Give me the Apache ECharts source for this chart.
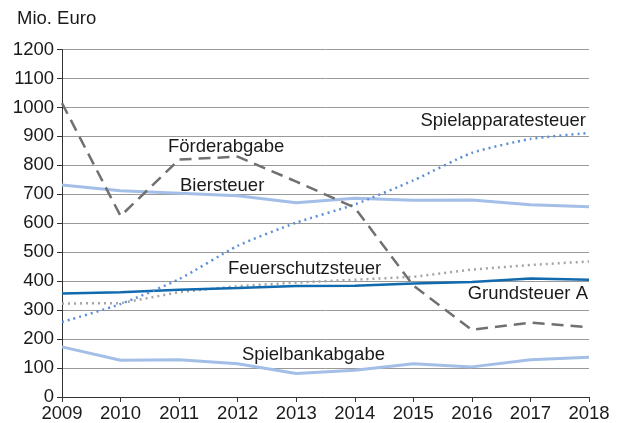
<!DOCTYPE html>
<html>
<head>
<meta charset="utf-8">
<script src="https://cdn.jsdelivr.net/npm/echarts@6/dist/echarts.min.js"></script>
<style>
html,body{margin:0;padding:0;background:#fff;}
#c{width:618px;height:423px;}
</style>
</head>
<body>
<div id="c"></div>
<script>
var years = ['2009','2010','2011','2012','2013','2014','2015','2016','2017','2018'];
var yTicks = [0,100,200,300,400,500,600,700,800,900,1000,1100,1200];
var foerderabgabe = [1015, 625, 820, 830, 744, 654, 385, 232, 257, 241];
var biersteuer = [732, 712, 704, 695, 671, 686, 679, 680, 664, 657];
var spielapparatesteuer = [259, 321, 407, 522, 602, 665, 748, 843, 891, 912];
var feuerschutzsteuer = [323, 324, 362, 383, 395, 405, 415, 440, 456, 468];
var grundsteuerA = [357, 362, 370, 376, 383, 384, 392, 397, 409, 405];
var spielbankabgabe = [173, 127, 129, 115, 81, 92, 115, 104, 129, 137];

var FONT = '"Liberation Sans", Arial, sans-serif';
var FS = 18.5;
var chart = echarts.init(document.getElementById('c'));
function txt(x, y, s, align) {
  return {type:'text', x:x, y:y, style:{text:s, fill:'#1a1a1a', font:FS + 'px ' + FONT,
    textAlign: align || 'left', textVerticalAlign:'middle'}};
}
chart.setOption({
  animation:false,
  grid:{left:62, right:29, top:49.5, bottom:24.5, containLabel:false},
  xAxis:{
    type:'category', data:years, boundaryGap:false,
    axisLine:{lineStyle:{color:'#333', width:1}},
    axisTick:{show:true, length:5, inside:false, lineStyle:{color:'#333'}},
    axisLabel:{color:'#1a1a1a', fontSize:FS, fontFamily:FONT, margin:7},
    splitLine:{show:false}
  },
  yAxis:{
    type:'value', min:yTicks[0], max:yTicks[yTicks.length-1], interval:100,
    axisLine:{show:true, lineStyle:{color:'#333', width:1}},
    axisTick:{show:true, length:5, lineStyle:{color:'#333'}},
    axisLabel:{color:'#1a1a1a', fontSize:FS, fontFamily:FONT, margin:8,
      formatter:function(v){return String(v);}},
    splitLine:{show:true, lineStyle:{color:'#999', width:1}}
  },
  series:[
    {name:'Spielbankabgabe', type:'line', data:spielbankabgabe, symbol:'none',
     lineStyle:{color:'#a3bfe8', width:3}},
    {name:'Feuerschutzsteuer', type:'line', data:feuerschutzsteuer, symbol:'none',
     lineStyle:{color:'#a5a5a5', width:2.5, type:[2,4]}},
    {name:'Grundsteuer A', type:'line', data:grundsteuerA, symbol:'none',
     lineStyle:{color:'#1169ae', width:2.5}},
    {name:'Biersteuer', type:'line', data:biersteuer, symbol:'none',
     lineStyle:{color:'#a3bfe8', width:3}},
    {name:'Spielapparatesteuer', type:'line', data:spielapparatesteuer, symbol:'none', smooth:0.2,
     lineStyle:{color:'#5b8fd6', width:2.5, type:[2,4]}},
    {name:'Förderabgabe', type:'line', data:foerderabgabe, symbol:'none',
     lineStyle:{color:'#707070', width:2.5, type:[12,7]}}
  ],
  graphic:[
    txt(17, 19, 'Mio. Euro'),
    txt(168, 147, 'Förderabgabe'),
    txt(180, 185.5, 'Biersteuer'),
    txt(586, 121, 'Spielapparatesteuer', 'right'),
    txt(228, 269, 'Feuerschutzsteuer'),
    txt(588, 294, 'Grundsteuer A', 'right'),
    txt(242, 355, 'Spielbankabgabe')
  ]
});
</script>
</body>
</html>
